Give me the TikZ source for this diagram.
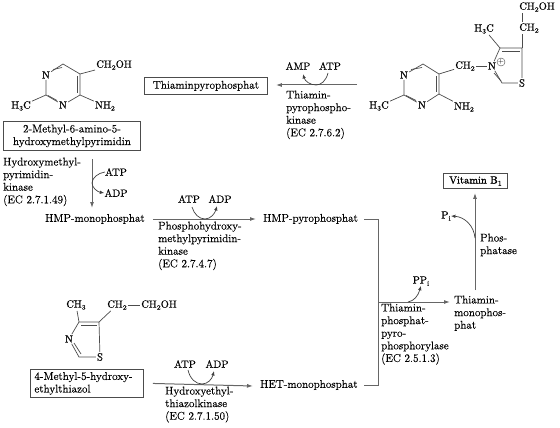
\documentclass[tikz,border=0pt]{standalone}
\usepackage{fontspec}
\setmainfont{Latin Modern Roman}[RawFeature={embolden=0.35}]
\newfontfamily\heavyfont{Latin Modern Roman}[RawFeature={embolden=1.1}]
\usetikzlibrary{arrows.meta}
\newcommand{\sbs}[1]{\raisebox{-2pt}{\fontsize{7}{7}\selectfont #1}}
\tikzset{x=1pt,y=-1pt,
 txt/.style={font=\fontsize{11.2}{12.6}\selectfont,text=black,inner sep=0pt,align=left,anchor=north west},
 lbl/.style={font=\fontsize{11.2}{12}\selectfont,text=black,inner sep=0pt},
 cof/.style={font=\fontsize{10.5}{12}\selectfont,text=black,inner sep=0pt},
 atom/.style={font=\fontsize{10.5}{11}\selectfont,text=black,inner sep=1pt},
 boxed/.style={draw=black!70,line width=0.9pt,font=\fontsize{11.2}{12.6}\selectfont,text=black,inner sep=0pt,align=center,anchor=north west},
 bond/.style={draw=black!70,line width=0.7pt},
 flow/.style={draw=black!60,line width=1pt},
 arrow/.style={flow,-{Latex[length=6pt,width=4pt]}},
 cofac/.style={draw=black!75,line width=0.7pt,-{Latex[length=4.5pt,width=3.5pt]}}}
\begin{document}
\begin{tikzpicture}
\useasboundingbox (0,0) rectangle (560,428);
% left pyrimidine
\node[atom] (lN1) at (46,75) {N};
\coordinate (lC6) at (63,64);
\coordinate (lC5) at (80,74);
\coordinate (lC4) at (80,95);
\node[atom] (lN3) at (63,105) {N};
\coordinate (lC2) at (46,95);
\node[atom,anchor=center] (lOH) at (114,65) {CH\sbs{2}OH};
\node[atom] (lNH) at (105,106) {NH\sbs{2}};
\node[atom] (lMe) at (21,106) {H\sbs{3}C};
\draw[bond] (lN1) -- (lC6) -- (lC5) -- (lC4) -- (lN3) -- (lC2) -- (lN1);
\draw[bond] (53,69.5) -- (62,67.5);
\draw[bond] (77,76) -- (77,93);
\draw[bond] (48,95.5) -- (57,100.5);
\draw[bond] (lC5) -- (lOH);
\draw[bond] (lC4) -- (lNH);
\draw[bond] (lC2) -- (lMe);
% boxes
\node[boxed,minimum width=123pt,minimum height=17pt] (tpp) at (144,77) {Thiaminpyrophosphat};
\node[boxed,minimum width=137pt,minimum height=29pt] (hmp) at (3,121) {2-Methyl-6-amino-5-\\hydroxymethylpyrimidin};
\coordinate (a1s) at (92,159);
\coordinate (a1e) at (92,208);
\node[lbl,anchor=west] (hmpm) at (45,219) {HMP-monophosphat};
\draw[arrow] (a1s) -- (a1e);
\node[txt] (e1) at (3,157.5) {Hydroxymethyl-\\pyrimidin-\\kinase\\(EC 2.7.1.49)};
\node[cof] (atp1) at (116,172) {ATP};
\node[cof] (adp1) at (116,193) {ADP};
\draw[cofac] (atp1.west) .. controls (98,173) and (92,178) .. (92,183) .. controls (92,188) and (98,192) .. (adp1.west);
% hmp mono -> pyro
\node[lbl,anchor=west] (hmpp) at (263,219) {HMP-pyrophosphat};
\draw[arrow] ([xshift=8]hmpm.east) -- ([xshift=-7]hmpp.west);
\node[cof] (atp2) at (189,199) {ATP};
\node[cof] (adp2) at (220,199) {ADP};
\draw[cofac] (192,207) .. controls (194,214) and (199,219) .. (205,219) .. controls (211,219) and (215,213) .. (217,206);
\node[txt] (e2) at (158,221.5) {Phosphohydroxy-\\methylpyrimidin-\\kinase\\(EC 2.7.4.7)};
% bottom thiazole
\node[atom] (tMe) at (76,305) {CH\sbs{3}};
\node[atom] (tCH) at (117,305) {CH\sbs{2}};
\node[atom] (tOH) at (159,305) {CH\sbs{2}OH};
\coordinate (tC4) at (79,322);
\coordinate (tC5) at (99,322);
\node[atom] (tS) at (100,357) {S};
\coordinate (tC2) at (79,357);
\node[atom] (tN) at (69,339) {N};
\draw[bond] (tC4) -- (tC5) -- (tS) -- (tC2) -- (tN) -- (tC4);
\draw[bond] (81,325) -- (97,325);
\draw[bond] (74,343) -- (81,354);
\draw[bond] (tC4) -- (tMe);
\draw[bond] (tC5) -- (tCH);
\draw[bond] (tCH) -- (tOH);
\node[boxed,minimum height=28pt,align=left,text width=105pt,inner xsep=4pt] (thz) at (30,369) {4-Methyl-5-hydroxy-\\ethylthiazol};
\node[lbl,anchor=west] (hetm) at (260,385) {HET-monophosphat};
\draw[arrow] ([xshift=9]thz.east) -- ([shift={(-7,1)}]hetm.west);
\node[cof] (atp3) at (185,364) {ATP};
\node[cof] (adp3) at (217,364) {ADP};
\draw[cofac] (188,370) .. controls (190,379) and (196,384) .. (202,384) .. controls (208,384) and (212,379) .. (214,371);
\node[txt] (e3) at (165,386.5) {Hydroxyethyl-\\thiazolkinase\\(EC 2.7.1.50)};
% bracket
\coordinate (bt) at (378,219);
\coordinate (bb) at (378,385);
\coordinate (bm) at (378,302);
\draw[flow] ([xshift=6]hmpp.east) -- (bt) -- (bb) -- ([xshift=6]hetm.east);
\node[txt] (tmp) at (454,295.5) {Thiamin-\\monophos-\\phat};
\draw[arrow] (bm) -- ([xshift=-4]tmp.west |- bm);
\node[cof] (ppi) at (421,281) {PP\sbs{i}};
\draw[cofac] (408,302) .. controls (414,301) and (418,296) .. (ppi.south);
\node[txt] (e4) at (381,303.5) {Thiamin-\\phosphat-\\pyro-\\phosphorylase\\(EC 2.5.1.3)};
% vitamin
\node[boxed,minimum width=64pt,minimum height=15pt,font=\fontsize{10.5}{12}\heavyfont] (vit) at (443,173) {Vitamin B\sbs{1}};
\coordinate (tmpT) at (475,290);
\draw[arrow] (tmpT) -- ([yshift=-4]tmpT |- vit.south);
\node[cof] (pi) at (446,216) {P\sbs{i}};
\draw[cofac] (475,238) .. controls (474,226) and (465,217) .. (pi.east);
\node[txt] (e5) at (480,233.5) {Phos-\\phatase};
% top arrow
\coordinate (a4s) at (357,85);
\draw[arrow] (a4s) -- ([xshift=8]tpp.east |- a4s);
\node[cof] (amp) at (298,66) {AMP};
\node[cof] (atp4) at (330,66) {ATP};
\draw[cofac] (328,73) .. controls (326,81) and (321,85) .. (316,85) .. controls (310,85) and (305,81) .. (303,74);
\node[txt] (e6) at (286,90.5) {Thiamin-\\pyrophospho-\\kinase\\(EC 2.7.6.2)};
% right molecule
\node[atom] (rN1) at (404,75) {N};
\coordinate (rC6) at (423,64);
\coordinate (rC5) at (439,74);
\coordinate (rC4) at (439,94);
\node[atom] (rN3) at (422,105) {N};
\coordinate (rC2) at (404,95);
\node[atom] (rMe) at (379,106) {H\sbs{3}C};
\node[atom] (rNH) at (464,107) {NH\sbs{2}};
\node[atom] (rCH) at (465,66) {CH\sbs{2}};
\node[atom] (rNp) at (492,66) {N};
\node[font=\fontsize{7}{8}\selectfont,inner sep=0pt,draw=black!70,circle,minimum size=7pt] (plus) at (501,62) {$+$};
\coordinate (rT4) at (500,48);
\coordinate (rT5) at (522,48);
\node[atom] (rS) at (522,83) {S};
\coordinate (rT2) at (502,83);
\node[atom] (rH3) at (484,29) {H\sbs{3}C};
\node[atom] (rC1) at (529,28) {CH\sbs{2}};
\node[atom] (rC0) at (537,7) {CH\sbs{2}OH};
\draw[bond] (rN1) -- (rC6) -- (rC5) -- (rC4) -- (rN3) -- (rC2) -- (rN1);
\draw[bond] (411,69.5) -- (422,67.5);
\draw[bond] (436,76) -- (436,92);
\draw[bond] (406,95.5) -- (416,100.5);
\draw[bond] (rC2) -- (rMe);
\draw[bond] (rC4) -- (rNH);
\draw[bond] (rC5) -- (rCH);
\draw[bond] (rCH) -- (rNp);
\draw[bond] (rNp) -- (rT4) -- (rT5) -- (rS) -- (rT2) -- (rNp);
\draw[bond] (502,51) -- (520,51);
\draw[bond] (494,73) -- (501,81);
\draw[bond] (rT4) -- (rH3);
\draw[bond] (rT5) -- (rT5 |- rC1.south);
\draw[bond] (rT5 |- rC1.north) -- (rT5 |- rC0.south);
\end{tikzpicture}
\end{document}
